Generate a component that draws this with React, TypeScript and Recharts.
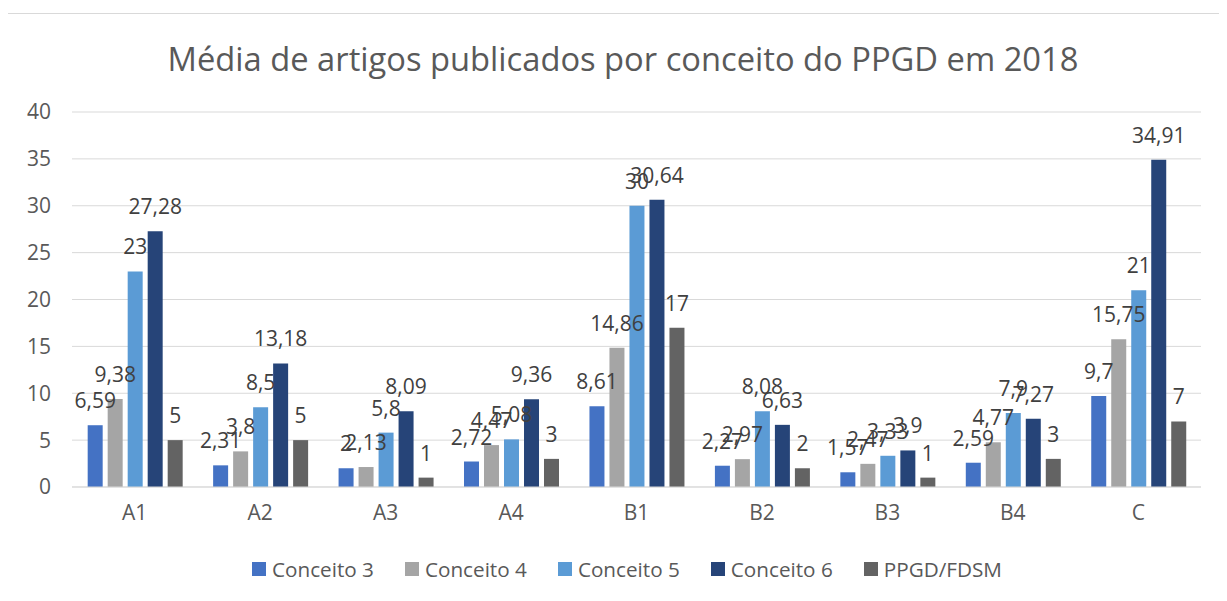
import { Bar, BarChart, CartesianGrid, LabelList, XAxis, YAxis } from "recharts";

const categories = ["A1", "A2", "A3", "A4", "B1", "B2", "B3", "B4", "C"];
const conceito3 = [6.59, 2.31, 2, 2.72, 8.61, 2.27, 1.57, 2.59, 9.7];
const conceito4 = [9.38, 3.8, 2.13, 4.47, 14.86, 2.97, 2.47, 4.77, 15.75];
const conceito5 = [23, 8.5, 5.8, 5.08, 30, 8.08, 3.33, 7.9, 21];
const conceito6 = [27.28, 13.18, 8.09, 9.36, 30.64, 6.63, 3.9, 7.27, 34.91];
const ppgd = [5, 5, 1, 3, 17, 2, 1, 3, 7];
const yTicks = [0, 5, 10, 15, 20, 25, 30, 35, 40];

const series = [
  { key: "c3", name: "Conceito 3", color: "#4472C4", values: conceito3 },
  { key: "c4", name: "Conceito 4", color: "#A5A5A5", values: conceito4 },
  { key: "c5", name: "Conceito 5", color: "#5B9BD5", values: conceito5 },
  { key: "c6", name: "Conceito 6", color: "#264478", values: conceito6 },
  { key: "pp", name: "PPGD/FDSM", color: "#636363", values: ppgd },
];

const data = categories.map((cat, i) => {
  const row: Record<string, string | number> = { cat };
  series.forEach((s) => (row[s.key] = s.values[i]));
  return row;
});

const font = "'Open Sans', 'Noto Sans', sans-serif";
const fmt = (v: unknown) => String(v).replace(".", ",");

export default function App() {
  return (
    <div
      style={{
        position: "relative",
        width: 1213,
        height: 600,
        marginLeft: -1,
        marginTop: 5,
        border: "1px solid #d9d9d9",
        boxSizing: "border-box",
        background: "#fff",
        fontFamily: font,
      }}
    >
      <div
        style={{
          position: "absolute",
          top: 22,
          left: 0,
          width: "100%",
          paddingLeft: 19,
          boxSizing: "border-box",
          textAlign: "center",
          fontSize: 32.7,
          color: "#595959",
          whiteSpace: "nowrap",
        }}
      >
        Média de artigos publicados por conceito do PPGD em 2018
      </div>
      <div style={{ position: "absolute", top: 0, left: 0 }}>
        <BarChart
          width={1211}
          height={530}
          data={data}
          margin={{ top: 98, right: 18, bottom: 0, left: 0 }}
          barCategoryGap="12.5%"
          barGap={5}
        >
          <CartesianGrid vertical={false} stroke="#d9d9d9" />
          <XAxis
            dataKey="cat"
            axisLine={{ stroke: "#d9d9d9" }}
            tickLine={false}
            tick={{ fill: "#595959", fontSize: 21, fontFamily: font }}
            tickMargin={12}
            height={57}
          />
          <YAxis
            domain={[0, 40]}
            ticks={yTicks}
            axisLine={false}
            tickLine={false}
            width={64}
            tickMargin={15}
            tick={{ fill: "#595959", fontSize: 21, fontFamily: font }}
          />
          {series.map((s) => (
            <Bar key={s.key} dataKey={s.key} name={s.name} fill={s.color} isAnimationActive={false}>
              <LabelList
                dataKey={s.key}
                position="top"
                offset={17}
                formatter={fmt}
                style={{ fill: "#404040", fontSize: 21, fontFamily: font }}
              />
            </Bar>
          ))}
        </BarChart>
      </div>
      <div
        style={{
          position: "absolute",
          top: 541,
          left: 244,
          display: "flex",
          alignItems: "center",
          gap: 31,
          fontSize: 20.7,
          color: "#595959",
          whiteSpace: "nowrap",
        }}
      >
        {series.map((s) => (
          <div key={s.key} style={{ display: "flex", alignItems: "center", gap: 6 }}>
            <span style={{ width: 14, height: 14, background: s.color, display: "inline-block" }} />
            <span>{s.name}</span>
          </div>
        ))}
      </div>
    </div>
  );
}
